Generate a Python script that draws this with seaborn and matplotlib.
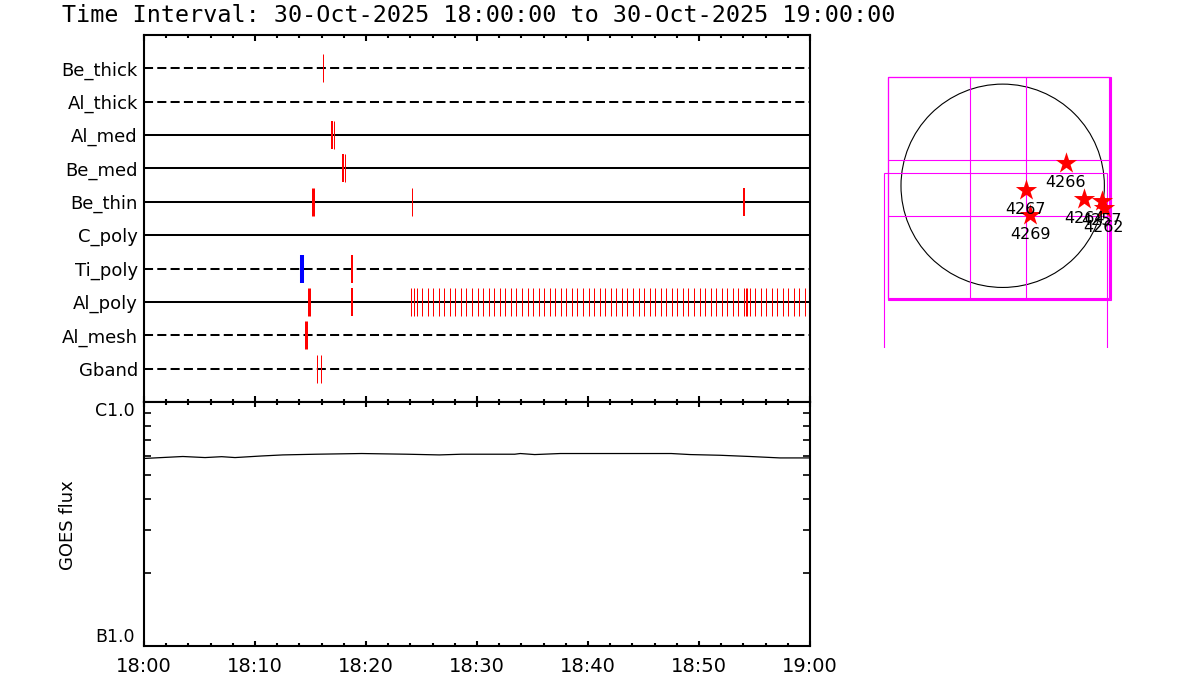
import numpy as np
import matplotlib
matplotlib.use("Agg")
import matplotlib.pyplot as plt
import seaborn as sns
from matplotlib.patches import Circle, Rectangle
from matplotlib.ticker import MultipleLocator, LogLocator, NullFormatter

# ---------------- data ----------------
title_text = "Time Interval: 30-Oct-2025 18:00:00 to 30-Oct-2025 19:00:00"
rows = ["Be_thick", "Al_thick", "Al_med", "Be_med", "Be_thin",
        "C_poly", "Ti_poly", "Al_poly", "Al_mesh", "Gband"]
xtick_labels = ["18:00", "18:10", "18:20", "18:30", "18:40", "18:50", "19:00"]

# event times (minutes after 18:00) and event level per row
be_thick_t = [16.13]
be_thick_l = [1]
al_thick_t = []
al_thick_l = []
al_med_t = [16.91, 17.12]
al_med_l = [2, 1]
be_med_t = [17.90, 18.11]
be_med_l = [2, 1]
be_thin_t = [15.23, 24.14, 54.03]
be_thin_l = [3, 1, 2]
c_poly_t = []
c_poly_l = []
ti_poly_t = [14.21, 18.71]
ti_poly_l = [4, 2]
al_poly_t = [14.86, 18.71, 24.05, 24.30, 24.55,
             25.05, 25.55, 26.05, 26.55, 27.05, 27.55, 28.05, 28.55, 29.05, 29.55,
             30.05, 30.55, 31.05, 31.55, 32.05, 32.55, 33.05, 33.55, 34.05, 34.55,
             35.05, 35.55, 36.05, 36.55, 37.05, 37.55, 38.05, 38.55, 39.05, 39.55,
             40.05, 40.55, 41.05, 41.55, 42.05, 42.55, 43.05, 43.55, 44.05, 44.55,
             45.05, 45.55, 46.05, 46.55, 47.05, 47.55, 48.05, 48.55, 49.05, 49.55,
             50.05, 50.55, 51.05, 51.55, 52.05, 52.55, 53.05, 53.55, 54.05, 54.20,
             54.30, 54.55, 55.05, 55.55, 56.05, 56.55, 57.05, 57.55, 58.05, 58.55,
             59.05, 59.55]
al_poly_l = [3, 2] + [1] * (len(al_poly_t) - 2)
al_mesh_t = [14.59]
al_mesh_l = [3]
gband_t = [15.59, 15.95]
gband_l = [1, 1]

# GOES flux (W/m^2) vs minutes after 18:00
goes_t = [0.0, 3.5, 5.5, 7.0, 8.2, 10.6, 12.5, 15.5, 19.6, 23.7, 26.6, 28.6,
          33.4, 33.9, 35.2, 37.5, 47.5, 49.2, 51.9, 54.6, 57.3, 60.0]
goes_flux = [5.87e-7, 5.98e-7, 5.92e-7, 5.97e-7, 5.92e-7, 6.01e-7, 6.07e-7,
             6.11e-7, 6.15e-7, 6.11e-7, 6.07e-7, 6.11e-7, 6.11e-7, 6.15e-7,
             6.09e-7, 6.15e-7, 6.15e-7, 6.09e-7, 6.05e-7, 5.98e-7, 5.90e-7,
             5.90e-7]

# solar map (arcsec)
sun_radius = 970
fov_x0 = [-1097, -1097, -1097, -1130]
fov_x1 = [1036, 1026, 1014, 992]
fov_y0 = [-1087, -1080, -1075, -2234]
fov_y1 = [1035, 1035, 1035, 119]
grid_x = [-309, 225]
grid_y = [246, -288]
ar_names = ["4266", "4267", "4269", "4264", "4257", "4262"]
ar_x = [603, 218, 265, 778, 944, 966]
ar_y = [219, -39, -281, -129, -142, -212]

# ---------------- styles ----------------
row_dashed = [True, True, False, False, False, False, True, False, True, True]
level_lw = {1: 0.72, 2: 1.44, 3: 2.16, 4: 2.9}
level_color = {1: "#ff0000", 2: "#ff0000", 3: "#ff0000", 4: "#0000ff"}

sns.set_theme(style="white")
plt.rcParams["font.family"] = ["DejaVu Sans"]
plt.rcParams["axes.edgecolor"] = "black"
plt.rcParams["xtick.color"] = "black"
plt.rcParams["ytick.color"] = "black"
plt.rcParams["text.color"] = "black"

fig = plt.figure(figsize=(12, 7), dpi=100)
ax1 = fig.add_axes([0.12, 0.4257, 0.555, 0.5243])
ax2 = fig.add_axes([0.12, 0.0771, 0.555, 0.3486])
ax3 = fig.add_axes([0.7333, 0.5029, 0.2042, 0.3971])

# ---------------- top panel ----------------
all_t = [be_thick_t, al_thick_t, al_med_t, be_med_t, be_thin_t,
         c_poly_t, ti_poly_t, al_poly_t, al_mesh_t, gband_t]
all_l = [be_thick_l, al_thick_l, al_med_l, be_med_l, be_thin_l,
         c_poly_l, ti_poly_l, al_poly_l, al_mesh_l, gband_l]
n = len(rows)
for i, (name, dashed, ts, ls_) in enumerate(zip(rows, row_dashed, all_t, all_l)):
    y = n - i
    ax1.axhline(y, color="black", lw=1.45,
                ls=(0, (4.5, 2.1)) if dashed else "-", zorder=1)
    if ts:
        ax1.vlines(ts, y - 0.42, y + 0.42,
                   colors=[level_color[l] for l in ls_],
                   linewidths=[level_lw[l] for l in ls_], zorder=2,
                   snap=True)

ax1.set_xlim(0, 60)
ax1.set_ylim(0, 11)
ax1.set_yticks([n - i for i in range(n)])
ax1.set_yticklabels(rows)
ax1.tick_params(axis="y", length=0, pad=4.5, labelsize=13, left=True)
ax1.xaxis.set_major_locator(MultipleLocator(10))
ax1.xaxis.set_minor_locator(MultipleLocator(2))
ax1.tick_params(axis="x", which="both", top=True, bottom=True, direction="in",
                labelbottom=False, width=1.5)
ax1.tick_params(axis="x", which="major", length=4.2)
ax1.tick_params(axis="x", which="minor", length=2.2)
for s in ax1.spines.values():
    s.set_linewidth(1.5)
    s.set_color("black")

# ---------------- GOES panel ----------------
sns.lineplot(x=goes_t, y=goes_flux, ax=ax2, color="black", lw=0.9,
             sort=True, estimator=None)
ax2.set_yscale("log")
ax2.set_ylim(1e-7, 1e-6)
ax2.set_xlim(0, 60)
ax2.set_yticks([1e-7, 1e-6])
ax2.set_yticklabels(["B1.0", "C1.0"])
ax2.yaxis.set_minor_locator(LogLocator(base=10, subs=np.arange(2, 10)))
ax2.yaxis.set_minor_formatter(NullFormatter())
ax2.tick_params(axis="y", which="major", length=0, pad=6.5, labelsize=12.5)
ax2.tick_params(axis="y", which="minor", length=5, width=1.2, direction="in",
                left=True, right=True)
labs = ax2.get_yticklabels()
labs[0].set_va("bottom")
labs[1].set_va("top")
ax2.set_xticks(range(0, 61, 10))
ax2.set_xticklabels(xtick_labels)
ax2.xaxis.set_minor_locator(MultipleLocator(2))
ax2.tick_params(axis="x", which="both", top=True, bottom=True, direction="in",
                width=1.5, labelsize=14, pad=8)
ax2.tick_params(axis="x", which="major", length=3.5)
ax2.tick_params(axis="x", which="minor", length=2)
ax2.set_xlabel("")
ax2.set_ylabel("")
for s in ax2.spines.values():
    s.set_linewidth(1.5)
    s.set_color("black")

# ---------------- solar map ----------------
ax3.set_xlim(-1170.6, 1166.7)
ax3.set_ylim(-1547.4, 1104.7)
ax3.set_axis_off()
ax3.add_patch(Circle((0, 0), sun_radius, fill=False, ec="black", lw=0.8))
for x0, x1, y0, y1 in zip(fov_x0, fov_x1, fov_y0, fov_y1):
    ax3.add_patch(Rectangle((x0, y0), x1 - x0, y1 - y0, fill=False,
                            ec="#ff00ff", lw=0.8))
for gx in grid_x:
    ax3.plot([gx, gx], [fov_y0[2], fov_y1[2]], color="#ff00ff", lw=0.8)
for gy in grid_y:
    ax3.plot([fov_x0[2], fov_x1[2]], [gy, gy], color="#ff00ff", lw=0.8)
sns.scatterplot(x=ar_x, y=ar_y, marker="*", s=260, color="#ff0000",
                edgecolor="#ff0000", linewidth=0, ax=ax3, zorder=3, legend=False)
for nm, x, y in zip(ar_names, ar_x, ar_y):
    ax3.annotate(nm, (x, y), xytext=(0, -14), textcoords="offset points",
                 ha="center", va="center", fontsize=11.5, zorder=4)
ax3.set_axis_off()

# ---------------- texts ----------------
fig.text(62 / 1200, 1 - 16 / 700, title_text, fontsize=16.8, ha="left",
         va="center", family=["DejaVu Sans Mono", "DejaVu Sans"])
fig.text(68 / 1200, 1 - 525 / 700, "GOES flux", rotation=90, fontsize=13,
         ha="center", va="center")

fig.savefig("out.png", dpi=100)
